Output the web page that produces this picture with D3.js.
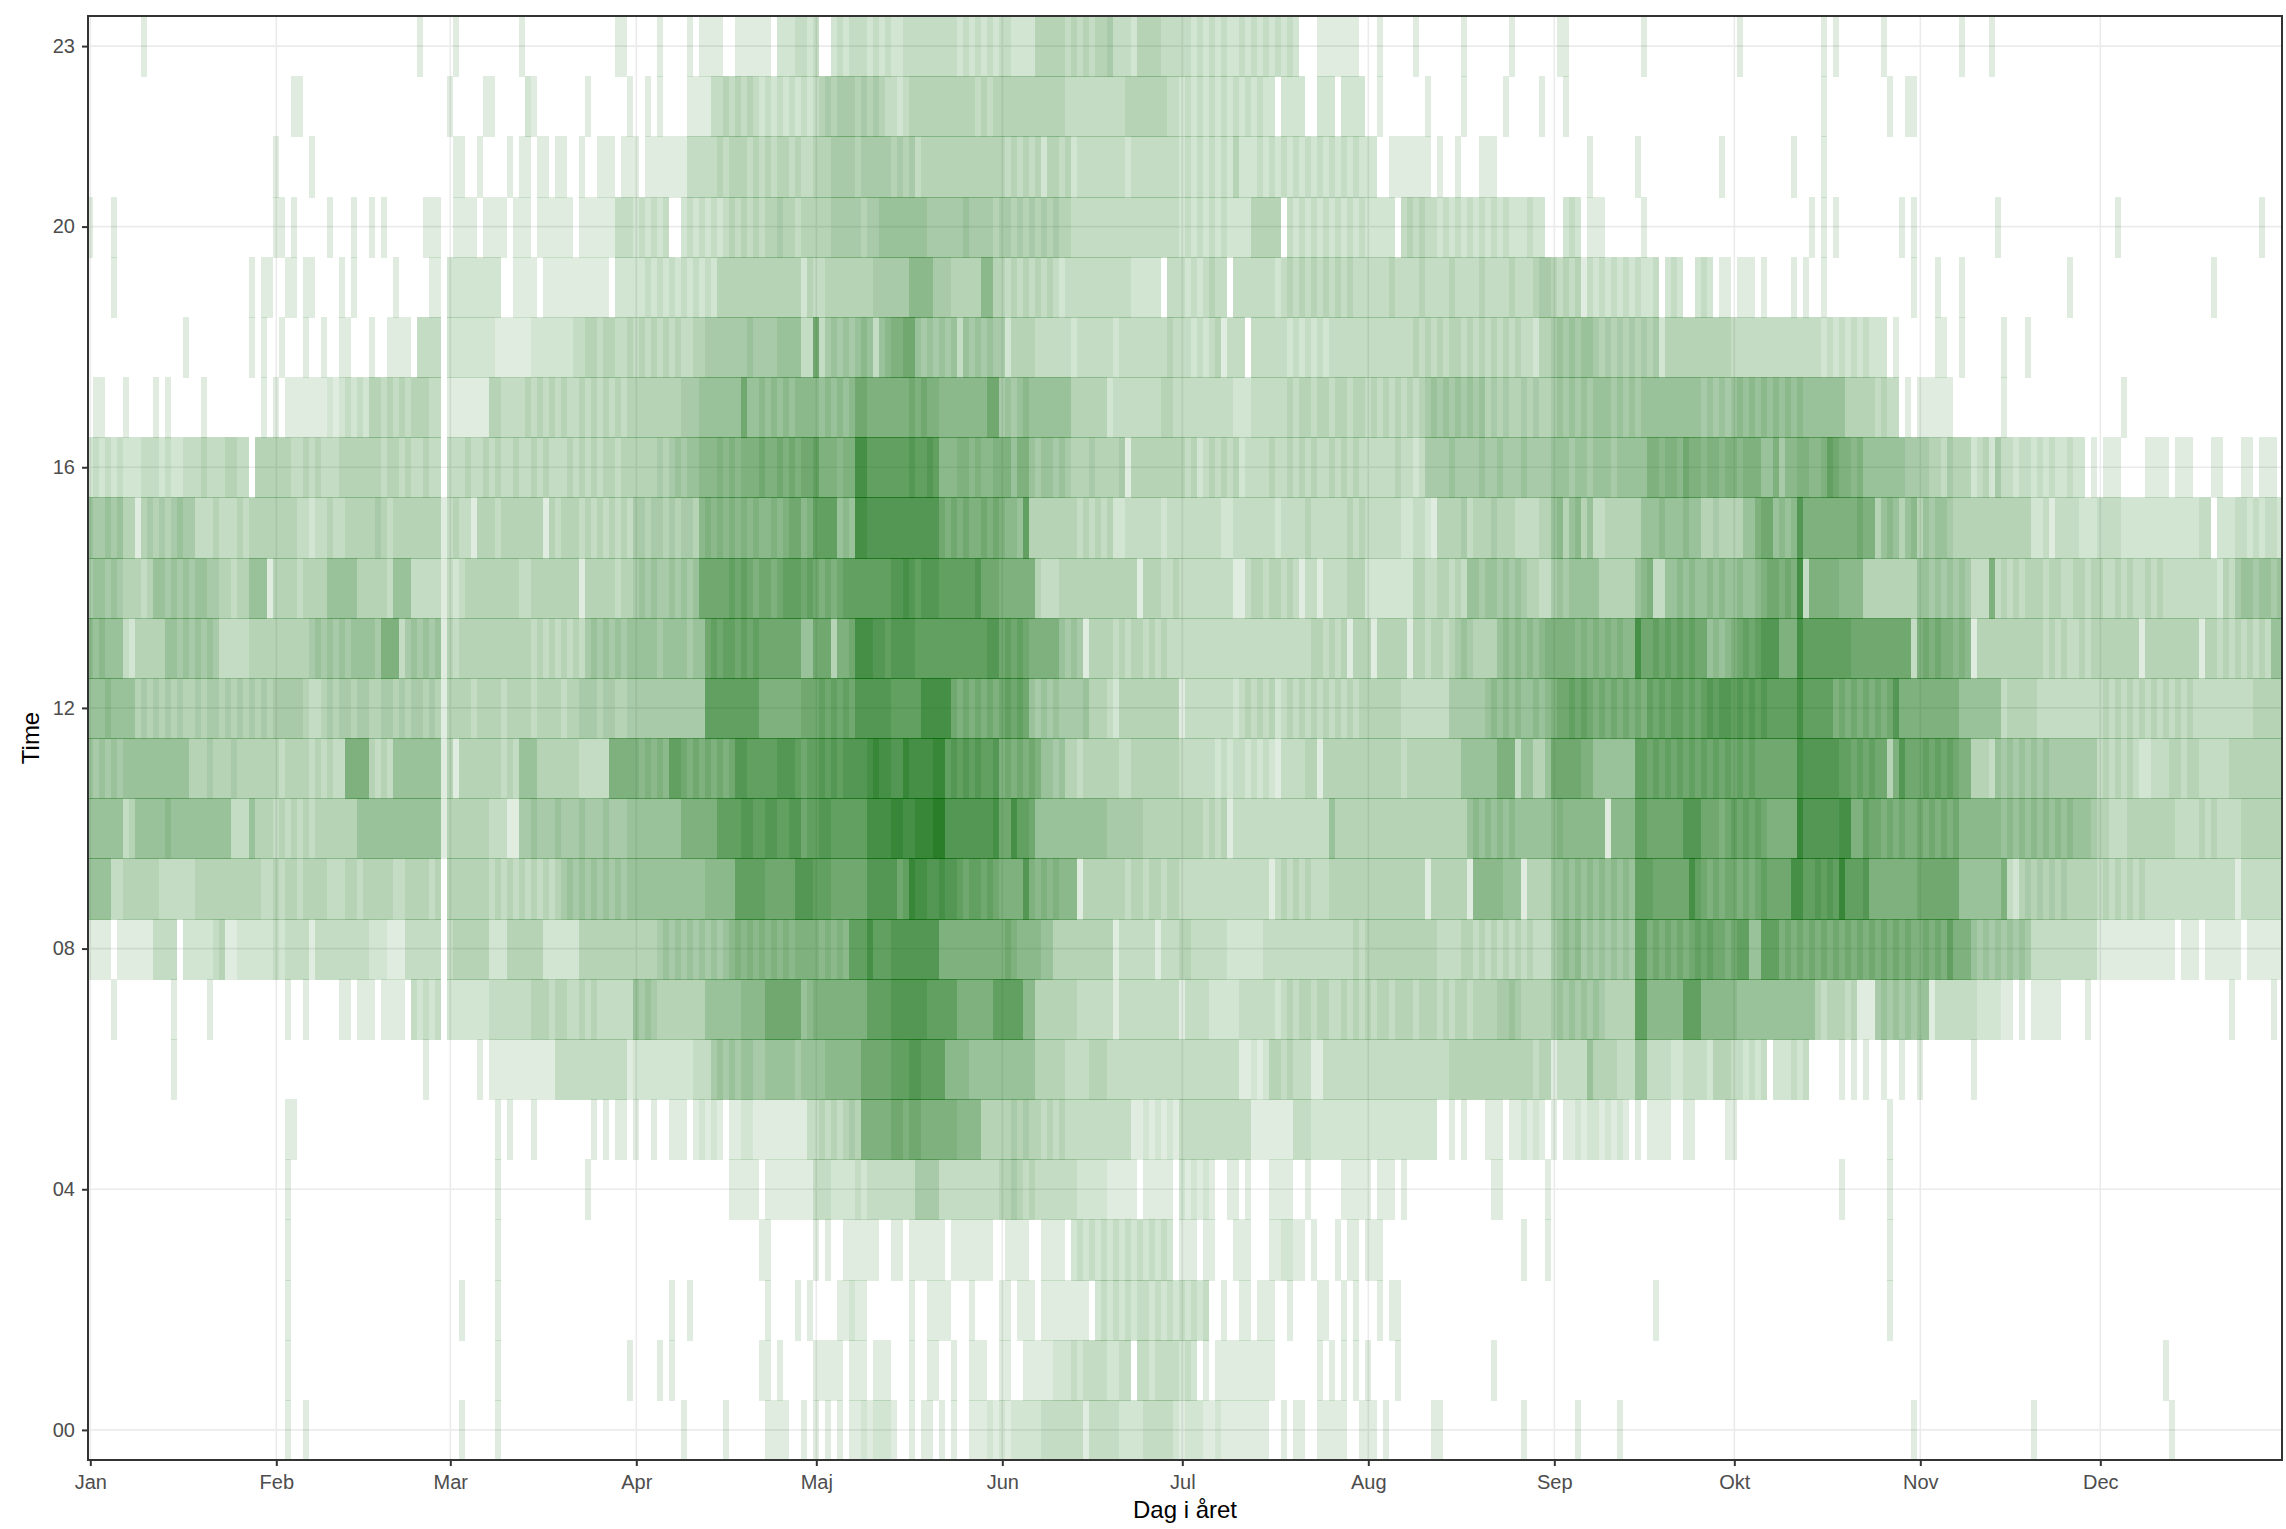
<!doctype html>
<html>
<head>
  <meta charset="utf8">
  <title>Time og dag i året</title>
  <style>
    body {
      margin: 0;
      padding: 0;
      background: #fff;
    }
    svg {
      display: block;
    }
    text {
      font-family: "Liberation Sans", sans-serif;
    }
  </style>
</head>
<body>
  <svg></svg>

  <script src="https://d3js.org/d3.v7.min.js"></script>
  <script>
    // Month starts are day numbers in a leap year (day 0 = 1 Jan)
    const monthNames = ['Jan', 'Feb', 'Mar', 'Apr', 'Maj', 'Jun', 'Jul', 'Aug', 'Sep', 'Okt', 'Nov', 'Dec']
    const monthStarts = [0, 31, 60, 91, 121, 152, 182, 213, 244, 274, 305, 335]
    const hourTicks = [0, 4, 8, 12, 16, 20, 23]

    // Each row: [first day, one hex digit per day = estimated count]
    const hour00 = [[33,'1'],[36,'1'],[62,'1'],[68,'1'],[99,'1'],[106,'1'],[113,'1'],[114,'111'],[119,'1'],[121,'1'],[123,'1'],[125,'1'],[127,'11212221'],[137,'1'],[139,'11'],[142,'1'],[144,'1'],[147,'111212122222'],[159,'3333333'],[166,'13333322223333321'],[183,'22211211111111'],[199,'1'],[201,'11'],[205,'11111'],[212,'111'],[216,'1'],[224,'11'],[239,'1'],[248,'1'],[255,'1'],[304,'1'],[324,'1'],[347,'1']]
    const hour01 = [[33,'1'],[68,'1'],[90,'1'],[95,'1'],[97,'1'],[112,'11'],[115,'1'],[121,'11111'],[127,'111'],[131,'111'],[137,'1'],[140,'11'],[144,'1'],[147,'111'],[152,'11'],[156,'11111'],[161,'2223233332233'],[175,'3323333232'],[186,'1'],[188,'1111111111'],[205,'1'],[207,'1'],[209,'1'],[211,'1'],[213,'1'],[218,'1'],[234,'1'],[346,'1']]
    const hour02 = [[33,'1'],[62,'1'],[68,'1'],[97,'1'],[100,'1'],[113,'1'],[118,'1'],[120,'1'],[125,'11211'],[137,'1'],[140,'1111'],[147,'1'],[152,'11'],[155,'111'],[159,'11111111'],[168,'2323232332323232323'],[189,'1'],[192,'11'],[195,'111'],[200,'1'],[205,'11'],[209,'1'],[211,'1'],[215,'1'],[217,'11'],[261,'1'],[300,'1']]
    const hour03 = [[33,'1'],[68,'1'],[112,'11'],[121,'1'],[123,'1'],[126,'111111'],[134,'11'],[137,'111111'],[144,'1111111'],[153,'1111'],[159,'1111'],[164,'23232323232323232'],[182,'111'],[186,'11'],[191,'111'],[197,'112211'],[204,'1'],[208,'1'],[210,'11'],[213,'111'],[239,'1'],[243,'1'],[300,'1']]
    const hour04 = [[33,'1'],[68,'1'],[83,'1'],[107,'11111'],[113,'11111111'],[121,'3332222323333333355553333333333'],[152,'445434333333322222111110111110'],[182,'2121210011010001111001000001111'],[213,'1'],[215,'111'],[219,'1'],[234,'11'],[243,'1'],[292,'1'],[300,'1']]
    const hour05 = [[33,'11'],[68,'1'],[70,'1'],[74,'1'],[84,'1'],[86,'1'],[88,'11'],[91,'1'],[94,'1'],[97,'111'],[101,'12121'],[107,'11221111111113'],[121,'3434345488888998998888887777444'],[152,'445454434343333333333311212121'],[182,'3333333333331111111333222222222'],[213,'2222222222220010100011101121210'],[244,'101121221212101011110011'],[273,'11'],[300,'1']]
    const hour06 = [[14,'1'],[56,'1'],[65,'1'],[67,'111111111113333333333331222222222233356565665566666566'],[121,'6677777799999aaabbaaaa777766666'],[152,'666666444443333444333333333333'],[182,'3333333333112124434333113333333'],[213,'3333333333333344444444444444344'],[244,'133333644443336633332233332444'],[274,'3323230222323'],[292,'1'],[294,'1'],[296,'1'],[299,'1'],[302,'1'],[305,'1'],[314,'1']]
    const hour07 = [[4,'1'],[14,'1'],[20,'1'],[33,'1'],[36,'1'],[42,'11'],[45,'111'],[49,'1111'],[54,'32323'],[60,'2222222333333344434433434333333'],[91,'656544444444666666777799999967'],[121,'888888888aaaabbbbbbaaaaa888888a'],[152,'aaaa77444444433333313333333333'],[182,'1333322222333333234344344334343'],[213,'4344344434443434434444556544444'],[244,'56565656544444aa777777aaa77777'],[274,'7666666666666643444341115656565'],[305,'661333333322221101011111'],[333,'1'],[357,'1'],[364,'1']]
    const hour08 = [[0,'1111011111133330222223411222222'],[31,'32333313333333332221113333330'],[60,'3444444222444444222222444444444'],[91,'444456565656565678787878787888'],[121,'878787aaacaaabbbbbbbb8888888888'],[152,'898777766444444444413333331333'],[182,'4433333322222233333333333333343'],[213,'4444444444443333443434343434333'],[244,'56767565656565aa89898989a9a998'],[274,'9aa66aaa89898989898989898989898'],[305,'89898a888656565656533333333333'],[335,'1111111111111011101111110111111']]
    const hour09 = [[0,'6666334444443333334444444444433'],[31,'43443444433344344444334444340'],[60,'4444444343434343434565656565656'],[91,'66666666666677777aaaaa99999bbb'],[121,'aaa999999bbbbb9adccbbcbba9aa9a9'],[152,'8888b8787877714444444344344344'],[182,'3333333333333331343434333444444'],[213,'4444444444144444417777766614444'],[244,'66767676767676aaa999999ca98989'],[274,'98989a9999ccaababadaaab88888888'],[305,'999999966666668324545454544444'],[335,'3434343433333333333333313333333']]
    const hour10 = [[0,'6666663466666766666666663336444'],[31,'34343434444444666666666666661'],[60,'4444444333115565556555655565556'],[91,'66666666888888aaaabbaabbaabb9a'],[121,'abbaaaaaaccccddccdddeebbbbbbbbc'],[152,'99caa9666666666666555555444444'],[182,'4444343413333333333333333644444'],[213,'4444444444444444467676767666666'],[244,'787777777177 77aa999999bbb99989'.slice(0, 12) + '77aa999999bbb99989'],[274,'a9a9a988888dbbbbbbcc88a99898988'],[305,'989898977777776767676767676665'],[335,'4433344444444333343433334444444']]
    const hour11 = [[0,'6565656666666666644454445444444'],[31,'43444434343388884343666666661'],[60,'4144444443436664444444333338888'],[91,'878787aa989898989bbaaaaabbba9a'],[121,'abababbbbcdccbbdccccddabababaab'],[152,'898989866564434444443344444444'],[182,'3333332323323232133334414444444'],[213,'4444443444444444666666888366446'],[244,'99999886666666aa9a9a9a9a9a9a9a'],[274,'9a9a9999999cbbbbbbaa9a9a9948b99'],[305,'9a9a9a988444365656565655555555'],[335,'3434343223334434433333444444444']]
    const hour12 = [[0,'6667666645454545445455454545454'],[31,'55555433454554554455454554541'],[60,'4444344443444434444344555455445'],[91,'555555555555aaaaaaaaa888888899'],[121,'9a9a9a9bbbbbbaaaaaccccc98989898'],[152,'9a9a96565655556444324444444444'],[182,'1333333332343434234343434343434'],[213,'4444443333333355555567676766767'],[244,'899a9a9898989898a9a9aa9a9ababb'],[274,'abababaaaaacaaaaa8989898989b888'],[305,'888888866666663444443333333333'],[335,'3434343434343434333333333344444']]
    const hour13 = [[0,'7676663244444665656565333334444'],[31,'44444456565656666588835656561'],[60,'4344444444444434343434356565656'],[91,'6666566665669a9aa9a9a999999966'],[121,'9994889cccbbabbbbaaaaaaaaaaaabb'],[152,'9a9a98888865651444434344343433'],[182,'3333333333333333333333443434144'],[213,'4144444144344345654444676767678'],[244,'88887878787877c99a9a9a9a996767'],[274,'89a9abbb888caaaaaaaa99999999993'],[305,'898988787144444444444343433434'],[335,'4444444144444444414434343434366']]
    const hour14 = [[0,'5665654443466565656655443446661'],[31,'44443444466666444443666333331'],[60,'3234444444443344444444144444344'],[91,'5656556565699999a9a989989aaa9a'],[121,'98989aaaaaaaabbcbabbbaaaaaab999'],[152,'888888433344444444444441444334'],[182,'3333333331134434434313313333444'],[213,'2222222244334434366566565654433'],[244,'565666664444446783366767667676'],[274,'67667899898c3888887777444444444'],[305,'665656565333834343444344334434'],[335,'4334343343433333333324356656656']]
    const hour15 = [[0,'6556564414545456553334333434444'],[31,'44443323343344444543444444441'],[60,'3433144434444444143444343434343'],[91,'554554545547878787878778789978'],[121,'aaaa676ccbbbbbbbbbbbb9898988989'],[152,'8776a4444444434343422333333233'],[182,'3333333223333333233334333333434'],[213,'3333332233214444534445444333344'],[244,'674674633444444666766676644544'],[274,'44668996767b8888888889884676467'],[305,'465665444444444444422313333222'],[335,'3333222222222222233022233232332']]
    const hour16 = [[0,'2323232223332322333433344330444'],[31,'44433434333444444434434334330'],[60,'3334334343343343433343434344344'],[91,'444454565667778787888988989899'],[121,'a888788ccaaaaaaabaaba7778878778'],[152,'886886566565444544445144444444'],[182,'4342343434233334334343433434343'],[213,'3333343323555565555655655565555'],[244,'666566566656666688788798878878'],[274,'8788866857788778a98878666666655'],[305,'554435444234253323323232232201'],[335,'0111000011110111000110001101110']]
    const hour17 = [[1,'11'],[6,'1'],[11,'1'],[13,'1'],[19,'1'],[29,'1'],[31,'1'],[33,'11111112123232'],[47,'443434344433'],[60,'1111111443333434343433434343434'],[91,'444444445556666666966767676777'],[121,'7676767998888888989887777777799'],[152,'565676666666444444233333333443'],[182,'3333333332223333334344344344344'],[213,'3434343434565656565645454454544'],[244,'565656566656565666666666656565'],[274,'6767676767676666666444443433'],[303,'1'],[305,'111111'],[319,'1'],[339,'1']]
    const hour18 = [[16,'1'],[27,'1'],[29,'1'],[32,'1'],[36,'1'],[39,'1'],[42,'11'],[47,'1'],[50,'1111'],[55,'3333'],[60,'2222222211111122222223344344334'],[91,'343434343344555555565555666633'],[121,'9356565676367889965656563656565'],[152,'524444333333233333323333333343'],[182,'3323234133303333332323232333333'],[213,'3333333343434344343434343433244'],[244,'565656654545454545244444444444'],[274,'33333333333333323232323222'],[301,'1'],[308,'11'],[312,'1'],[319,'1'],[323,'1']]
    const hour19 = [[4,'1'],[27,'1'],[29,'11'],[33,'11'],[36,'11'],[42,'1'],[44,'1'],[51,'1'],[57,'11'],[60,'222222222'],[71,'1111'],[76,'11111111111'],[88,'222223232323232324444444444444424'],[121,'3344444444555555777755544444774'],[152,'434343434323333333333322222033'],[182,'3232343303333333234343434343433'],[213,'3333433334333343333433334333455'],[244,'434341323232323223'],[263,'232'],[268,'232'],[272,'11'],[275,'111'],[279,'1'],[284,'1'],[286,'1'],[289,'1'],[304,'1'],[308,'1'],[312,'1'],[330,'1'],[354,'1']]
    const hour20 = [[0,'1'],[4,'1'],[31,'11'],[34,'1'],[40,'1'],[44,'1'],[47,'1'],[49,'1'],[56,'111'],[61,'1111'],[66,'1111'],[71,'111'],[75,'111111'],[82,'111111333232323'],[99,'2323232343434344544344'],[121,'4445555545566666666555555655 54'.slice(0, 28) + '554'],[152,'554545454544333333333333333333'],[182,'2323232322224444403232323232323'],[213,'2222203434332323232323232223220'],[246,'232'],[250,'111'],[259,'1'],[287,'1'],[289,'1'],[291,'1'],[302,'1'],[304,'1'],[318,'1'],[338,'1'],[362,'1']]
    const hour21 = [[31,'1'],[37,'1'],[61,'11'],[65,'1'],[70,'1'],[72,'11'],[75,'11'],[78,'11'],[82,'1'],[85,'111'],[89,'111'],[93,'1111111333334344434343443433'],[121,'4445555455555454534444444444444'],[152,'434343424434233333333233333333'],[182,'2323232324222323232323232323232'],[212,'222'],[217,'1111111'],[225,'1'],[228,'1'],[232,'111'],[250,'1'],[258,'1'],[272,'1'],[284,'1'],[289,'1']]
    const hour22 = [[34,'11'],[60,'1'],[66,'11'],[73,'21'],[83,'1'],[90,'1'],[93,'1'],[95,'1'],[100,'1111'],[104,'33434343232323232'],[121,'3454555454543323444444444443434'],[152,'444444444443333333333444444433'],[182,'2323232323232322022220022202222'],[215,'1'],[223,'1'],[229,'1'],[236,'1'],[242,'1'],[246,'1'],[289,'1'],[300,'1'],[303,'11']]
    const hour23 = [[9,'1'],[55,'1'],[61,'1'],[72,'1'],[88,'11'],[95,'1'],[100,'1'],[102,'1111'],[108,'111111'],[115,'222332'],[121,'3'],[124,'2323332323223333333332323232'],[152,'332222444443434344533324444333'],[182,'33232323223232323232'],[205,'1111111'],[215,'1'],[221,'1'],[229,'1'],[237,'1'],[245,'11'],[259,'1'],[275,'1'],[289,'1'],[291,'1'],[299,'1'],[312,'1'],[317,'1']]

    const hourRows = [hour00, hour01, hour02, hour03, hour04, hour05, hour06, hour07, hour08, hour09, hour10, hour11,
      hour12, hour13, hour14, hour15, hour16, hour17, hour18, hour19, hour20, hour21, hour22, hour23]

    const width = 2286
    const height = 1529
    const panel = { left: 88, right: 2282, top: 16, bottom: 1460 }

    // Later chunks overwrite earlier ones so a row never has two tiles on one day
    const cells = hourRows.flatMap((chunks, hour) => {
      const counts = new Map()
      chunks.forEach(([first, digits]) => {
        Array.from(digits).forEach((c, i) => counts.set(first + i, parseInt(c, 16)))
      })
      return Array.from(counts, ([day, count]) => ({ hour, day, count })).filter(d => d.count > 0 && d.day < 366)
    })

    const x = d3.scaleLinear().domain([-0.5, 365.5]).range([87.3, 2283.3])
    const y = d3.scaleLinear().domain([-0.5, 23.5]).range([panel.bottom, panel.top])
    const alpha = d3.scaleLinear().domain([1, 14]).range([0.12, 0.835])

    const svg = d3.select('svg')
      .attr('width', width)
      .attr('height', height)

    svg.append('clipPath')
      .attr('id', 'panel-clip')
      .append('rect')
      .attr('x', panel.left)
      .attr('y', panel.top)
      .attr('width', panel.right - panel.left)
      .attr('height', panel.bottom - panel.top)

    // Grid
    const grid = svg.append('g').style('stroke', '#ebebeb').style('stroke-width', 1.6)
    grid.selectAll('line.v').data(monthStarts).join('line')
      .attr('class', 'v')
      .attr('x1', d => x(d)).attr('x2', d => x(d))
      .attr('y1', panel.top).attr('y2', panel.bottom)
    grid.selectAll('line.h').data(hourTicks).join('line')
      .attr('class', 'h')
      .attr('x1', panel.left).attr('x2', panel.right)
      .attr('y1', d => y(d)).attr('y2', d => y(d))

    // Tiles, one px taller than the row so neighbours overlap into a darker seam
    svg.append('g')
      .attr('clip-path', 'url(#panel-clip)')
      .style('shape-rendering', 'crispEdges')
      .selectAll('rect')
      .data(cells)
      .join('rect')
      .attr('x', d => x(d.day - 0.5))
      .attr('width', d => x(d.day + 0.5) - x(d.day - 0.5))
      .attr('y', d => y(d.hour + 0.5))
      .attr('height', d => y(d.hour - 0.5) - y(d.hour + 0.5) + 1)
      .style('fill', 'darkgreen')
      .style('fill-opacity', d => alpha(d.count))

    // Border
    svg.append('rect')
      .attr('x', panel.left)
      .attr('y', panel.top)
      .attr('width', panel.right - panel.left)
      .attr('height', panel.bottom - panel.top)
      .style('fill', 'none')
      .style('stroke', '#333')
      .style('stroke-width', 2)

    // Axes
    const xAxis = d3.axisBottom(x)
      .tickValues(monthStarts)
      .tickFormat((d, i) => monthNames[i])
      .tickSize(6)
      .tickPadding(9)
    const yAxis = d3.axisLeft(y)
      .tickValues(hourTicks)
      .tickFormat(d3.format('02d'))
      .tickSize(6)
      .tickPadding(7)

    const styleAxis = g => {
      g.select('.domain').remove()
      g.selectAll('line').style('stroke', '#333').style('stroke-width', 2)
      g.selectAll('text').style('fill', '#4d4d4d').style('font-size', '20px').style('font-family', '"Liberation Sans", sans-serif')
    }

    svg.append('g').attr('transform', `translate(0,${panel.bottom})`).call(xAxis).call(styleAxis)
    svg.append('g').attr('transform', `translate(${panel.left},0)`).call(yAxis).call(styleAxis)

    // Axis titles
    svg.append('text')
      .attr('x', (panel.left + panel.right) / 2)
      .attr('y', 1518)
      .style('text-anchor', 'middle')
      .style('font-size', '24px')
      .style('fill', '#000')
      .text('Dag i året')

    svg.append('text')
      .attr('transform', `translate(39,${(panel.top + panel.bottom) / 2}) rotate(-90)`)
      .style('text-anchor', 'middle')
      .style('font-size', '24px')
      .style('fill', '#000')
      .text('Time')
  </script>
</body>
</html>
